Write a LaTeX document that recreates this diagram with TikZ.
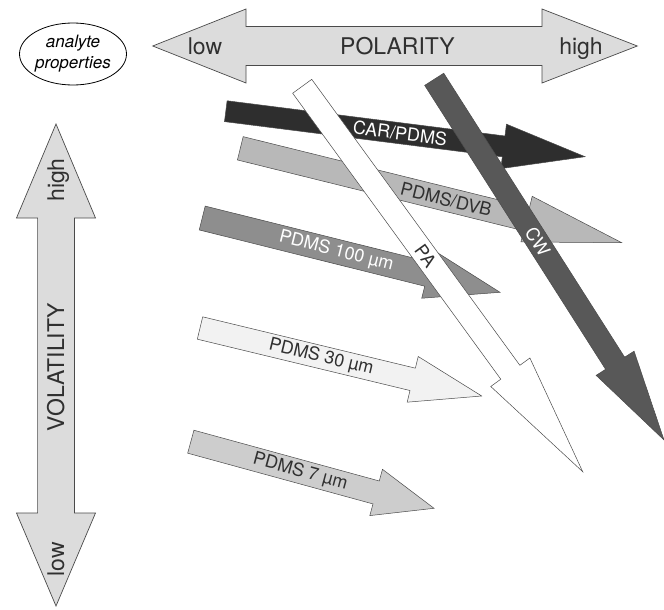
\documentclass[tikz,border=0pt]{standalone}
\usepackage{fontspec}
\setmainfont{TeX Gyre Heros}
\usetikzlibrary{calc}
\usetikzlibrary{shapes}

\definecolor{axisgrey}{HTML}{DCDCDC}
\definecolor{cardark}{HTML}{2E2E2E}
\definecolor{cwdark}{HTML}{585858}
\definecolor{dvbgrey}{HTML}{B8B8B8}
\definecolor{thickgrey}{HTML}{8E8E8E}
\definecolor{thingrey}{HTML}{F2F2F2}
\definecolor{finegrey}{HTML}{CDCDCD}
\definecolor{textgrey}{HTML}{303030}
\definecolor{edgegrey}{HTML}{4A4A4A}

\tikzstyle{bigarrow}=[draw=edgegrey,fill=axisgrey,line width=0.7pt,line join=miter]
\tikzstyle{fibre}=[draw=edgegrey,line width=0.5pt,line join=miter]
\tikzstyle{axislabel}=[font=\fontsize{23}{23}\selectfont,text=textgrey,inner sep=0pt,anchor=base]
\tikzstyle{fibrelabel}=[font=\fontsize{18}{18}\selectfont,inner sep=0pt,sloped]

\begin{document}
\begin{tikzpicture}[x=1pt,y=-1pt]
    \useasboundingbox (0,0) rectangle (664,610);

    \node[draw,ellipse,line width=0.8pt,minimum width=106pt,minimum height=62pt,inner sep=0pt,
          align=center,font=\itshape\fontsize{17}{21}\selectfont] (props) at (73,54) {analyte\\properties};

    % polarity axis
    \draw[bigarrow] (152.7,46) -- (246,9) -- (246,26.5) -- (542,26.5) -- (542,9) -- (637.3,46)
        -- (542,83) -- (542,65.5) -- (246,65.5) -- (246,83) -- cycle;
    \node[axislabel] (pollow) at (205,55) {low};
    \node[axislabel] (polname) at (397.5,55) {POLARITY};
    \node[axislabel] (polhigh) at (581,55) {high};

    % volatility axis
    \draw[bigarrow] (56,124) -- (95.5,218) -- (74.4,218) -- (74.4,513) -- (95.5,513) -- (56,606)
        -- (16.5,513) -- (37.6,513) -- (37.6,218) -- (16.5,218) -- cycle;
    \node[axislabel,rotate=90] (volhigh) at (64,180) {high};
    \node[axislabel,rotate=90] (volname) at (64,367) {VOLATILITY};
    \node[axislabel,rotate=90] (vollow) at (64,559) {low};

    % fibre coatings
    \foreach \name/\tx/\ty/\hx/\hy/\bw/\hw/\hl/\col/\tcol/\p/\lbl in {
        car/225.8/111.2/585/156.7/10.5/22.4/82/cardark/white/0.485/{CAR/PDMS},
        dvb/240.3/148.3/621.7/242.7/12/23.5/98/dvbgrey/textgrey/0.54/{PDMS/DVB},
        pdmsA/202.2/218/500/292.3/12.3/24.7/74.5/thickgrey/white/0.45/{PDMS 100 µm},
        pdmsB/200/328/481.7/396/11.5/23.5/71/thingrey/textgrey/0.43/{PDMS 30 µm},
        pdmsC/190.8/441.7/434/508.3/11.9/24/60/finegrey/textgrey/0.45/{PDMS 7 µm},
        pa/302.2/86.3/582.7/471.7/11.8/24.2/123/white/textgrey/0.44/{PA},
        cw/434.2/79.3/664/440/11.3/22.5/91/cwdark/white/0.45/{CW}}
    {
        \coordinate (\name T) at (\tx,\ty);
        \coordinate (\name H) at (\hx,\hy);
        \coordinate (\name B) at ($(\name H)!\hl pt!(\name T)$);
        \draw[fibre,fill=\col] ($(\name T)!\bw pt!90:(\name H)$) -- ($(\name B)!\bw pt!90:(\name H)$)
            -- ($(\name B)!\hw pt!90:(\name H)$) -- (\name H) -- ($(\name B)!\hw pt!-90:(\name H)$)
            -- ($(\name B)!\bw pt!-90:(\name H)$) -- ($(\name T)!\bw pt!-90:(\name H)$) -- cycle;
        \path (\name T) -- node[fibrelabel,text=\tcol,pos=\p] (\name L) {\lbl} (\name H);
    }

\end{tikzpicture}
\end{document}
